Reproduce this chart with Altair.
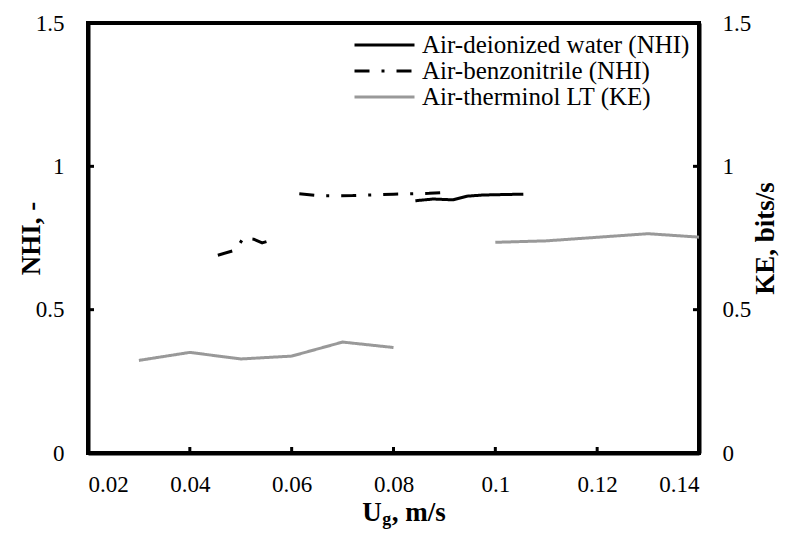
import altair as alt
import pandas as pd

# ---- data ----
series_names = ["Air-deionized water (NHI)", "Air-benzonitrile (NHI)", "Air-therminol LT (KE)"]

water_x = [0.0843, 0.0878, 0.0917, 0.0945, 0.0976, 0.1055]
water_y = [0.880, 0.886, 0.883, 0.896, 0.900, 0.903]

benzo1_x = [0.0455, 0.0490, 0.0505, 0.0525, 0.0542, 0.0561]
benzo1_y = [0.690, 0.708, 0.750, 0.746, 0.733, 0.743]
benzo2_x = [0.0615, 0.0660, 0.0720, 0.0800, 0.0870, 0.0910]
benzo2_y = [0.904, 0.897, 0.898, 0.903, 0.906, 0.910]

thermo1_x = [0.03, 0.04, 0.05, 0.06, 0.07, 0.08]
thermo1_y = [0.323, 0.351, 0.328, 0.338, 0.387, 0.368]
thermo2_x = [0.10, 0.11, 0.13, 0.14]
thermo2_y = [0.735, 0.740, 0.765, 0.753]

x_ticks = [0.02, 0.04, 0.06, 0.08, 0.10, 0.12, 0.14]
y_ticks = [0, 0.5, 1.0, 1.5]
inner_x_ticks = [0.04, 0.06, 0.08, 0.10, 0.12]
inner_y_ticks = [0.5, 1.0]


def rows(xs, ys, name, seg):
    return [{"x": a, "v": b, "series": name, "seg": seg, "i": k} for k, (a, b) in enumerate(zip(xs, ys))]


nhi = pd.DataFrame(
    rows(water_x, water_y, series_names[0], "w")
    + rows(benzo1_x, benzo1_y, series_names[1], "b1")
    + rows(benzo2_x, benzo2_y, series_names[1], "b2")
)
ke = pd.DataFrame(
    rows(thermo1_x, thermo1_y, series_names[2], "t1")
    + rows(thermo2_x, thermo2_y, series_names[2], "t2")
)

W, H = 611, 430
FONT = "Liberation Serif, Times New Roman, serif"
TICK_FS = 23
TITLE_FS = 27

xscale = alt.Scale(domain=[0.02, 0.14], nice=False, zero=False)
yscale = alt.Scale(domain=[0, 1.5], nice=False)

legend = alt.Legend(
    title=None, orient="none", legendX=265, legendY=9,
    symbolType="stroke", symbolSize=3600, symbolStrokeWidth=3,
    labelFont=FONT, labelFontSize=25, labelColor="black",
    rowPadding=0, clipHeight=26, labelLimit=400, labelOffset=6,
)
color = alt.Color(
    "series:N",
    scale=alt.Scale(domain=series_names, range=["#000000", "#000000", "#999999"]),
    legend=legend,
)
dash = alt.StrokeDash(
    "series:N",
    scale=alt.Scale(domain=series_names, range=[[1, 0], [15, 12, 3, 12], [1, 0]]),
    legend=legend,
)

xenc = alt.X(
    "x:Q", scale=xscale,
    axis=alt.Axis(values=x_ticks, format=".2~f", title=None, labelPadding=20),
)

nhi_lines = alt.Chart(nhi).mark_line(strokeWidth=3, strokeJoin="round").encode(
    x=xenc,
    y=alt.Y("v:Q", scale=yscale, axis=alt.Axis(
        values=y_ticks, format="~g", title="NHI, -", orient="left", labelPadding=24,
        titleX=-57, titleY=H / 2, titleAngle=270, titleAlign="center", titleBaseline="middle")),
    color=color, strokeDash=dash, detail="seg:N", order="i:Q",
)

ke_lines = alt.Chart(ke).mark_line(strokeWidth=3, strokeJoin="round").encode(
    x=alt.X("x:Q", scale=xscale),
    y=alt.Y("v:Q", scale=yscale, axis=alt.Axis(
        values=y_ticks, format="~g", title="KE, bits/s", orient="right", labelPadding=23,
        titleX=66, titleY=H / 2, titleAngle=270, titleAlign="center", titleBaseline="middle")),
    color=color, strokeDash=dash, detail="seg:N", order="i:Q",
)

bottom_ticks = alt.Chart(pd.DataFrame({"t": inner_x_ticks})).mark_rule(
    color="black", strokeWidth=3
).encode(x=alt.X("t:Q", scale=xscale), y=alt.value(H), y2=alt.value(H - 6))

left_ticks = alt.Chart(pd.DataFrame({"t": inner_y_ticks})).mark_rule(
    color="black", strokeWidth=3
).encode(y=alt.Y("t:Q", scale=yscale, axis=None), x=alt.value(0), x2=alt.value(6))

right_ticks = alt.Chart(pd.DataFrame({"t": inner_y_ticks})).mark_rule(
    color="black", strokeWidth=3
).encode(y=alt.Y("t:Q", scale=yscale, axis=None), x=alt.value(W - 6), x2=alt.value(W))

# x-axis title with subscript g
cx = W / 2 + 10
u_w, g_w = 0.722 * TITLE_FS, 0.5 * 18
total = u_w + g_w + 2.0 * TITLE_FS
x0 = cx - total / 2
base_y = H + 68
t_u = alt.Chart(pd.DataFrame({"s": ["U"]})).mark_text(
    font=FONT, fontSize=TITLE_FS, fontWeight="bold", align="left", baseline="alphabetic", color="black"
).encode(text="s:N", x=alt.value(x0), y=alt.value(base_y))
t_g = alt.Chart(pd.DataFrame({"s": ["g"]})).mark_text(
    font=FONT, fontSize=18, fontWeight="bold", align="left", baseline="alphabetic", color="black"
).encode(text="s:N", x=alt.value(x0 + u_w + 0.5), y=alt.value(base_y + 4))
t_rest = alt.Chart(pd.DataFrame({"s": [", m/s"]})).mark_text(
    font=FONT, fontSize=TITLE_FS, fontWeight="bold", align="left", baseline="alphabetic", color="black"
).encode(text="s:N", x=alt.value(x0 + u_w + g_w + 1), y=alt.value(base_y))

chart = alt.layer(
    nhi_lines, ke_lines, bottom_ticks, left_ticks, right_ticks, t_u, t_g, t_rest
).resolve_scale(y="independent").properties(
    width=W, height=H,
    autosize=alt.AutoSizeParams(type="none"),
    padding={"left": 80, "top": 15, "right": 80, "bottom": 76},
).configure(
    font=FONT,
).configure_view(
    stroke="black", strokeWidth=4
).configure_axis(
    domainColor="black", domainWidth=4, ticks=False, grid=False,
    labelFont=FONT, labelFontSize=TICK_FS, labelColor="black",
    titleFont=FONT, titleFontSize=TITLE_FS, titleFontWeight="bold", titleColor="black",
).configure_legend(
    labelFont=FONT, labelFontSize=25,
)

chart.save("out.html", embed_options={"renderer": "svg", "actions": False})
